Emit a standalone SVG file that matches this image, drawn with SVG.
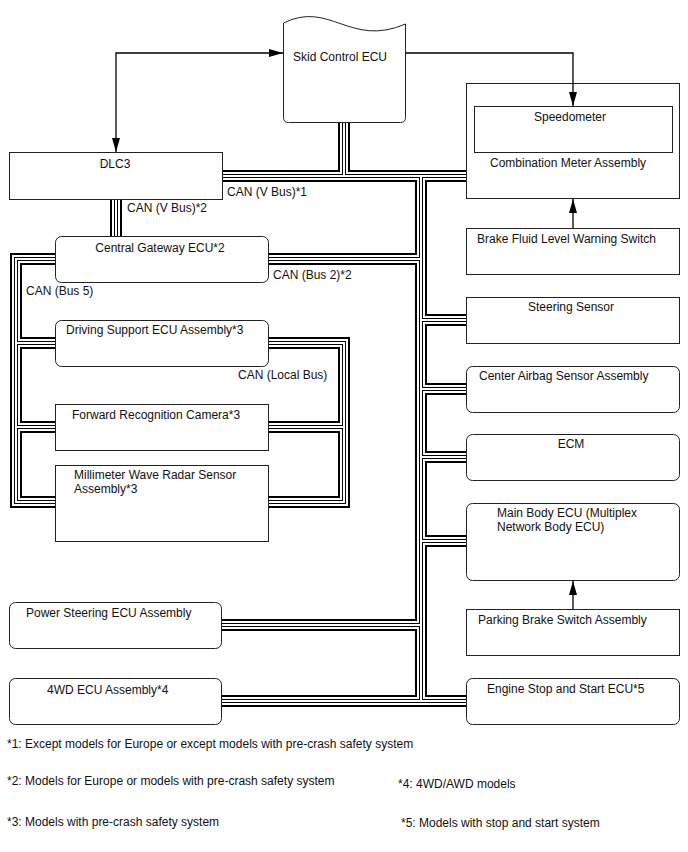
<svg xmlns="http://www.w3.org/2000/svg" xmlns:xlink="http://www.w3.org/1999/xlink" width="688" height="852" viewBox="0 0 688 852">
<style>
.n{fill:#fff;stroke:#222;stroke-width:1}
.t{font-family:"Liberation Sans",Arial,sans-serif;font-size:12px;fill:#111}
.m{text-anchor:middle}
.b1{stroke:#000;stroke-width:12}
.b2{stroke:#fff;stroke-width:8}
.b3{stroke:#000;stroke-width:4}
.b4{stroke:#fff;stroke-width:2}
.bus{fill:none;stroke-linecap:butt;stroke-linejoin:miter}
.arw{fill:none;stroke:#000;stroke-width:1.3}
</style>
<defs>
<marker id="arr" viewBox="0 0 14 8" refX="14" refY="4" markerWidth="14" markerHeight="8" markerUnits="userSpaceOnUse" orient="auto-start-reverse"><path d="M0,0 L14,4 L0,8 Z" fill="#000"/></marker>
<g id="busPaths" fill="none">
<path d="M223 176H466"/>
<path d="M344 123V176"/>
<path d="M421 176V701"/>
<path d="M222 701H466"/>
<path d="M269 259H421"/>
<path d="M421 320H466"/>
<path d="M421 389H466"/>
<path d="M421 457H466"/>
<path d="M421 541H466"/>
<path d="M222 625H421"/>
<path d="M116 200V236"/>
<path d="M55 259H16V502H55"/>
<path d="M16 343H55"/>
<path d="M16 427H55"/>
<path d="M269 343H344V502H269"/>
<path d="M344 427H269"/>
</g>
</defs>

<g id="skid"><path class="n" d="M283.5 23C330 0 350 48 405.5 24V117.5Q405.5 122.5 400.5 122.5H288.5Q283.5 122.5 283.5 117.5Z"/><text class="t m" x="340" y="61">Skid Control ECU</text></g>
<g id="dlc3"><rect class="n" x="9.5" y="152.5" width="213" height="47"/><text class="t m" x="115" y="168">DLC3</text></g>
<g id="combination-meter"><rect class="n" x="466.5" y="83.5" width="213" height="115"/><text class="t" x="490" y="167">Combination Meter Assembly</text></g>
<g id="speedometer"><rect class="n" x="474.5" y="106.5" width="198" height="46"/><text class="t m" x="570" y="121">Speedometer</text></g>
<g id="brake-fluid"><rect class="n" x="466.5" y="228.5" width="213" height="46"/><text class="t" x="477" y="243">Brake Fluid Level Warning Switch</text></g>
<g id="steering-sensor"><rect class="n" x="466.5" y="297.5" width="213" height="46"/><text class="t m" x="571" y="311">Steering Sensor</text></g>
<g id="center-airbag"><rect class="n" x="466.5" y="366.5" width="213" height="46" rx="6"/><text class="t" x="479" y="380">Center Airbag Sensor Assembly</text></g>
<g id="ecm"><rect class="n" x="466.5" y="434.5" width="213" height="46" rx="6"/><text class="t m" x="571" y="448">ECM</text></g>
<g id="main-body"><rect class="n" x="466.5" y="503.5" width="213" height="77" rx="6"/><text class="t" x="497" y="517">Main Body ECU (Multiplex</text><text class="t" x="497" y="531">Network Body ECU)</text></g>
<g id="parking-brake"><rect class="n" x="466.5" y="609.5" width="213" height="46"/><text class="t" x="478" y="624">Parking Brake Switch Assembly</text></g>
<g id="engine-stop"><rect class="n" x="466.5" y="678.5" width="213" height="46" rx="6"/><text class="t" x="487" y="693">Engine Stop and Start ECU*5</text></g>
<g id="gateway"><rect class="n" x="55.5" y="236.5" width="213" height="46" rx="6"/><text class="t m" x="160" y="252">Central Gateway ECU*2</text></g>
<g id="driving-support"><rect class="n" x="55.5" y="320.5" width="213" height="46" rx="6"/><text class="t" x="66" y="334">Driving Support ECU Assembly*3</text></g>
<g id="forward-camera"><rect class="n" x="55.5" y="404.5" width="213" height="46"/><text class="t" x="72" y="419">Forward Recognition Camera*3</text></g>
<g id="mmwave-radar"><rect class="n" x="55.5" y="465.5" width="213" height="76"/><text class="t" x="74" y="479">Millimeter Wave Radar Sensor</text><text class="t" x="74" y="493">Assembly*3</text></g>
<g id="power-steering"><rect class="n" x="9.5" y="602.5" width="212" height="46" rx="6"/><text class="t" x="26" y="617">Power Steering ECU Assembly</text></g>
<g id="ecu-4wd"><rect class="n" x="9.5" y="678.5" width="212" height="46" rx="6"/><text class="t" x="47" y="694">4WD ECU Assembly*4</text></g>

<g id="connectors">
<use xlink:href="#busPaths" href="#busPaths" class="bus b1"/>
<use xlink:href="#busPaths" href="#busPaths" class="bus b2"/>
<use xlink:href="#busPaths" href="#busPaths" class="bus b3"/>
<use xlink:href="#busPaths" href="#busPaths" class="bus b4"/>
<path class="arw" d="M116 152V53H283" marker-start="url(#arr)" marker-end="url(#arr)"/>
<path class="arw" d="M405.5 53H573V106" marker-end="url(#arr)"/>
<path class="arw" d="M573 228V199" marker-end="url(#arr)"/>
<path class="arw" d="M573 609V581" marker-end="url(#arr)"/>
</g>

<g id="labels">
<text class="t" x="227" y="196">CAN (V Bus)*1</text>
<text class="t" x="127" y="212">CAN (V Bus)*2</text>
<text class="t" x="273" y="279">CAN (Bus 2)*2</text>
<text class="t" x="26" y="295">CAN (Bus 5)</text>
<text class="t" x="238" y="379">CAN (Local Bus)</text>
</g>

<g id="notes">
<text class="t" x="7" y="748">*1: Except models for Europe or except models with pre-crash safety system</text>
<text class="t" x="7" y="785">*2: Models for Europe or models with pre-crash safety system</text>
<text class="t" x="398" y="788">*4: 4WD/AWD models</text>
<text class="t" x="7" y="826">*3: Models with pre-crash safety system</text>
<text class="t" x="401" y="827">*5: Models with stop and start system</text>
</g>
</svg>
